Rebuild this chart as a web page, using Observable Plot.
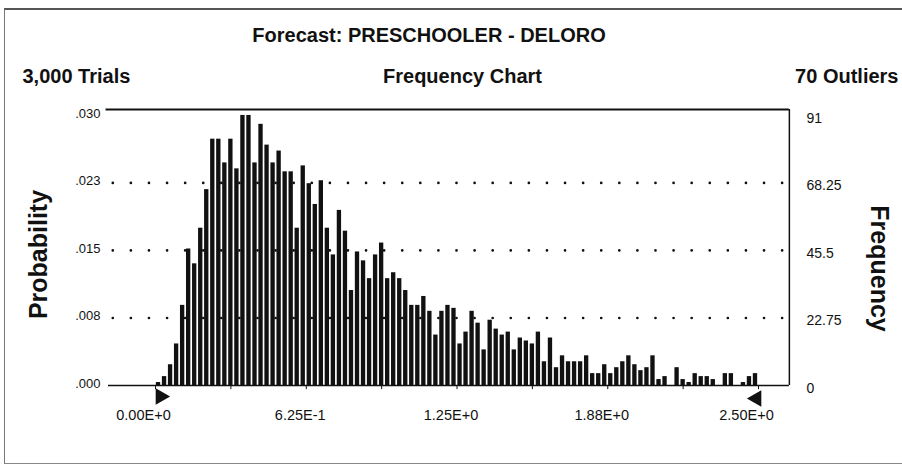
<!DOCTYPE html>
<html><head><meta charset="utf-8">
<script src="https://cdn.jsdelivr.net/npm/d3@7"></script>
<script src="https://cdn.jsdelivr.net/npm/@observablehq/plot@0.6"></script>
<style>
html,body{margin:0;padding:0;background:#fff;}
#wrap{position:relative;width:902px;height:468px;overflow:hidden;background:#fff;}
#border{position:absolute;left:4px;top:8px;width:910px;height:453px;border-left:1px solid #777;border-top:2px solid #555;border-bottom:1px solid #888;}
#chart{position:absolute;left:0;top:0;}
</style></head><body>
<div id="wrap"><div id="border"></div><div id="chart"></div></div>
<script>
// ---- data ----
const title = "Forecast: PRESCHOOLER - DELORO";
const subtitle = "Frequency Chart";
const trialsLabel = "3,000 Trials";
const outliersLabel = "70 Outliers";
const binWidth = 0.025;
const frequencies = [
  1, 3, 7, 14, 27, 46, 41, 53, 66, 83,
  83, 75, 83, 73, 91, 91, 75, 88, 81, 75,
  79, 72, 72, 53, 74, 68, 61, 69, 53, 44,
  59, 52, 32, 45, 42, 36, 44, 48, 36, 38,
  36, 32, 27, 27, 30, 25, 17, 25, 27, 26,
  14, 18, 25, 21, 12, 22, 19, 17, 18, 12,
  16, 15, 14, 18, 8, 16, 6, 10, 8, 8,
  8, 10, 4, 4, 7, 4, 6, 8, 10, 7,
  5, 6, 10, 2, 3, 0, 6, 2, 1, 4,
  3, 3, 2, 0, 4, 4, 0, 1, 3, 4
];
const freqTicks = [0, 22.75, 45.5, 68.25, 91];
const freqTickLabels = ["0", "22.75", "45.5", "68.25", "91"];
const probTickLabels = [".000", ".008", ".015", ".023", ".030"];
const gridValues = [22.75, 45.5, 68.25];
const xTickValues = [0, 0.3125, 0.625, 0.9375, 1.25, 1.5625, 1.875, 2.1875, 2.5];
const xLabelValues = [0, 0.625, 1.25, 1.875, 2.5];
const xLabels = ["0.00E+0", "6.25E-1", "1.25E+0", "1.88E+0", "2.50E+0"];
const yAxisTitle = "Probability";
const y2AxisTitle = "Frequency";
const grabbers = [0, 2.5];

// ---- derived tables ----
const bars = frequencies.map((f, i) => ({x1: i * binWidth, x2: (i + 1) * binWidth, f})).filter(d => d.f > 0);
const leftTicks = freqTicks.map((v, i) => ({v, label: probTickLabels[i]}));
const rightTicks = freqTicks.map((v, i) => ({v, label: freqTickLabels[i]}));
const xLabelData = xLabelValues.map((v, i) => ({v, label: xLabels[i], end: i === 0 || i === xLabels.length - 1}));

const frameLeft = -0.205, frameRight = 2.628, frameTop = 93;
const font = "'Liberation Sans', Arial, Helvetica, sans-serif";

const chart = Plot.plot({
  width: 902,
  height: 468,
  marginTop: 109,
  marginBottom: 83,
  marginLeft: 155,
  marginRight: 144,
  x: {domain: [0, 2.5], axis: null},
  y: {domain: [0, frameTop], axis: null},
  style: {fontFamily: font, background: "transparent", color: "#111", overflow: "visible"},
  marks: [
    Plot.ruleY(gridValues, {x1: -0.175, x2: 2.633, stroke: "#111", strokeWidth: 2.7, strokeDasharray: "0,18.09", strokeLinecap: "round"}),
    Plot.rectY(bars, {x1: "x1", x2: "x2", y: "f", fill: "#111", insetLeft: 0.85, insetRight: 0.85}),
    Plot.ruleY([0], {x1: frameLeft + 0.01, x2: frameRight, stroke: "#111", strokeWidth: 1.5}),
    Plot.ruleY([frameTop], {x1: frameLeft, x2: frameRight, stroke: "#111", strokeWidth: 2}),
    Plot.ruleX([frameRight], {y1: 0, y2: frameTop, stroke: "#111", strokeWidth: 1.5}),
    Plot.ruleX(xTickValues, {y1: 0, y2: -1.4, stroke: "#111", strokeWidth: 1}),
    Plot.dot([grabbers[0]], {x: d => d, y: 0, symbol: "triangle", rotate: 90, r: 6.2, fill: "#111", stroke: "none", dx: 5, dy: 11}),
    Plot.dot([grabbers[1]], {x: d => d, y: 0, symbol: "triangle", rotate: -90, r: 6.2, fill: "#111", stroke: "none", dx: -2, dy: 13}),
    Plot.text(leftTicks, {y: "v", text: "label", frameAnchor: "left", dx: -55, dy: -2, textAnchor: "end", fontSize: 13}),
    Plot.text(rightTicks, {y: "v", text: "label", frameAnchor: "right", dx: 48, dy: 3, textAnchor: "start", fontSize: 14}),
    Plot.text(xLabelData.filter(d => !d.end), {x: "v", text: "label", frameAnchor: "bottom", lineAnchor: "middle", dy: 30, dx: -6, fontSize: 14.5}),
    Plot.text(xLabelData.filter(d => d.end), {x: "v", text: "label", frameAnchor: "bottom", lineAnchor: "middle", dy: 30, dx: -12, fontSize: 14.5}),
    Plot.text([title], {text: d => d, frameAnchor: "top", lineAnchor: "middle", dx: -28, dy: -74, fontSize: 20, fontWeight: "bold"}),
    Plot.text([trialsLabel], {text: d => d, frameAnchor: "top-left", lineAnchor: "middle", textAnchor: "start", dx: -133, dy: -33, fontSize: 20, fontWeight: "bold"}),
    Plot.text([subtitle], {text: d => d, frameAnchor: "top", lineAnchor: "middle", dx: 5.5, dy: -33, fontSize: 20, fontWeight: "bold"}),
    Plot.text([outliersLabel], {text: d => d, frameAnchor: "top-right", lineAnchor: "middle", textAnchor: "end", dx: 140, dy: -33, fontSize: 20, fontWeight: "bold"}),
    Plot.text([yAxisTitle], {text: d => d, frameAnchor: "left", textAnchor: "middle", lineAnchor: "middle", rotate: -90, dx: -117, dy: 7, fontSize: 25, fontWeight: "bold"}),
    Plot.text([y2AxisTitle], {text: d => d, frameAnchor: "right", textAnchor: "middle", lineAnchor: "middle", rotate: 90, dx: 120, dy: 21, fontSize: 25, fontWeight: "bold"})
  ]
});
document.getElementById("chart").appendChild(chart);
</script>
</body></html>
